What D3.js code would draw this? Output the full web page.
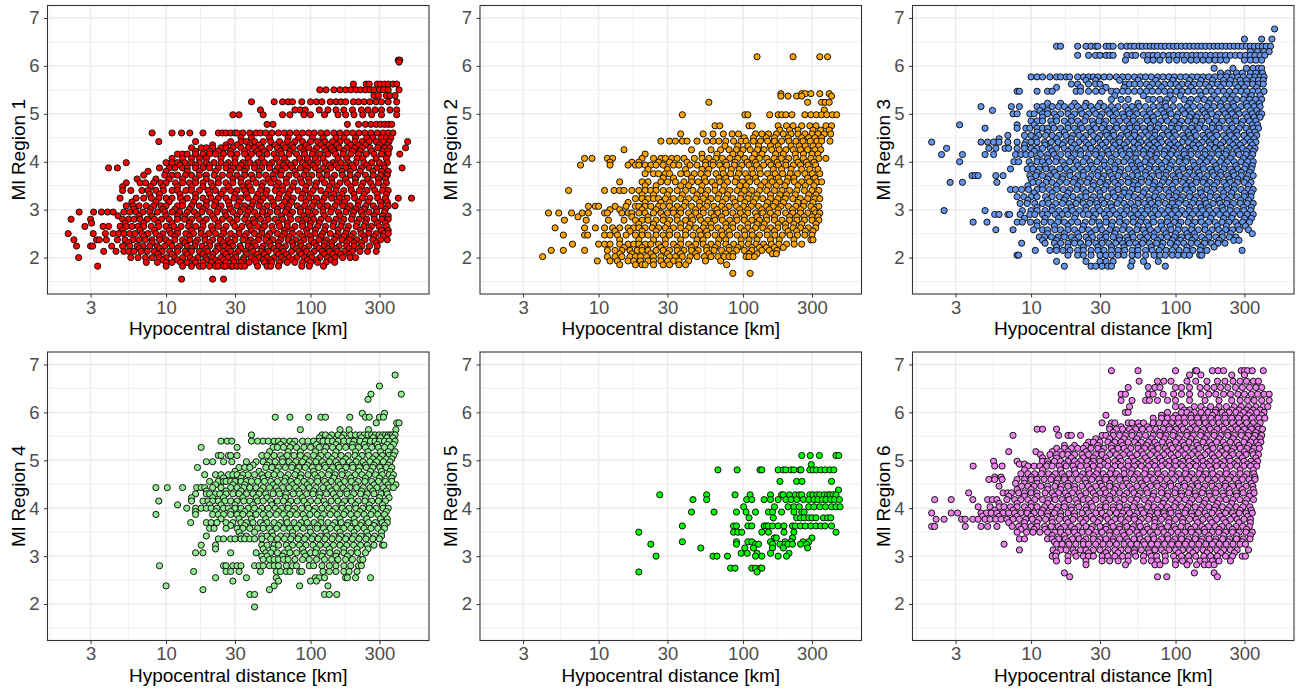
<!DOCTYPE html>
<html>
<head>
<meta charset="utf-8">
<script src="https://cdn.jsdelivr.net/npm/d3@7"></script>
<style>
  html, body { margin: 0; padding: 0; background: #fff; }
  svg { display: block; font-family: "Liberation Sans", sans-serif; }
</style>
</head>
<body>
<div id="vizArea"></div>
<script>
const xTicks = [3, 10, 30, 100, 300];
const xMinor = [1.6, 5.48, 17.3, 54.8, 173];
const yTicks = [2, 3, 4, 5, 6, 7];
const yMinor = [1.5, 2.5, 3.5, 4.5, 5.5, 6.5];
const regionNames = ["Ml Region 1", "Ml Region 2", "Ml Region 3", "Ml Region 4", "Ml Region 5", "Ml Region 6"];
const regionColors = ["#ff0000", "#ffa500", "#6495ed", "#90ee90", "#00ff00", "#ee82ee"];

// each row: [Ml, [hypocentral distances in km]]
const region1 = [
  [6.12,[405,415]],[6.08,[410]],
  [5.62,[198,243,255,290,305,325,345,372,395]],
  [5.5,[116,128,145,160,175,190,207,222,240,258,275,300,320,345,410]],
  [5.38,[275,295,335,355,385]],
  [5.25,[39,56,64,70,75,87,100,110,120,137,150,162,175,198,215,235,258,285,310,345,395]],
  [5.08,[45,78,85,92,115,132,150,170,195,225,250,280,310,355,395]],
  [4.98,[29,32,47,64,72,90,100,125,155,175,200,230,265,310,395]],
  [4.78,[50,55,180,215,240,262,285,305,325,345,365]],
  [4.6,[8,11,12.8,14.6,18,23,24.6,26,28,30,31,34,38,42,45,49,54,60,66,72,80,88,97,106,118,130,145,160,178,196,216,238,262,290,318,345,372]],
  [4.5,[33,39,52,70,83,103,122,150,170,205,245,270,310,335,360]],
  [4.42,[8.9,16,28,33,36,41,47,53,61,69,78,88,100,112,126,142,160,180,203,228,255,285,320,350,470]],
  [4.35,[21,26,31,38,44,57,65,74,93,118,134,152,190,215,240,300,340]],
  [4.29,[15,17.5,19,21,24,26,29,33,37,41,46,52,59,67,76,85,97,110,124,140,158,178,202,228,258,292,330,352,455]],
  [4.22,[16,20,23,28,35,43,48,62,72,90,105,128,145,170,195,220,265,315,345]],
  [4.16,[12,13,14,16,18,20,22,25,28,31,35,39,44,50,56,63,71,80,91,103,116,132,149,168,190,215,243,275,310,345,415]],
  [4.07,[11,13,15,17,19,24,30,37,46,58,66,84,95,108,122,155,178,210,230,285,335]],
  [3.98,[5.3,10,11,12,13.5,15,17,19,21.5,24,27,30,34,38,43,48,54,61,69,78,88,99,112,127,143,162,183,207,234,265,300,340]],
  [3.93,[12.5,16,20,26,33,41,52,65,73,92,104,135,150,175,195,245,320]],
  [3.87,[4,4.6,9,10.5,11.5,13,14,16,18,20,23,26,29,32,36,41,46,52,59,67,75,85,96,108,122,138,156,176,199,225,254,287,325,430]],
  [3.8,[7.5,10,14,17,22,28,35,44,57,63,78,93,115,130,165,188,220,270,310,345]],
  [3.72,[7,9.8,11,12,13.6,15,17,19,21.5,24.5,27.5,31,35,39,44,49,55,62,71,80,90,102,115,130,147,166,188,212,240,272,306,340]],
  [3.64,[6.3,8.5,10.5,13,16,19,23,29,33,40,51,56,68,85,97,120,140,175,205,250,295,330]],
  [3.56,[5.3,6.6,7.2,8.2,9.2,10,11.6,13,14.5,16,18,20.5,23,26,29,33,37,42,47,53,60,68,77,87,98,110,125,141,160,180,204,231,261,296,335]],
  [3.48,[5,7.8,9.5,12,15,18,21,27,34,38,46,58,64,75,93,108,135,152,190,225,270,320]],
  [3.4,[5,5.7,6.8,7.5,8.5,9.6,11,12,13.7,15,17,19.5,22,25,28,31,35,39,45,50,57,64,72,82,92,104,118,133,150,170,192,218,246,279,316,345]],
  [3.32,[7.7,9,12.5,16,20,24,30,36,43,49,61,70,88,100,128,145,165,200,235,290,335]],
  [3.24,[4.8,6.2,7,7.9,8.9,10,11,12.6,14,16,18,20.5,23,26,29.5,33,37,42,47,53,60,68,76,86,97,110,124,140,158,179,202,228,258,292,330,405,500]],
  [3.16,[5.8,8.5,10.5,13,15.5,19,22,27,32,40,45,55,66,74,93,106,120,153,172,215,250,305,340]],
  [3.08,[5.3,5.9,6.5,7.3,8.2,9.2,10,12,13,15,17,19,21.5,24,27.5,31,35,39,44,50,56,63,71,81,91,103,116,131,148,167,188,213,241,272,308,345,385]],
  [3.01,[6,7.8,9.5,11.5,14.5,18,23,28,34,38,47,59,69,85,97,122,140,180,205,235,285,330]],
  [2.95,[2.5,3.15,3.57,3.94,4.3,5.1,5.6,6.2,6.9,7.7,8.7,9.8,11,12.4,14,15.7,17.7,20,22.5,25.5,29,32.5,37,41,46.5,52.5,59,67,75,85,96,108,122,138,156,176,199,225,254,287,325]],
  [2.87,[4.65,6.5,8,10,12,13.5,16.5,21,26,31,36,43,50,63,72,90,102,125,160,195,230,275,315,345]],
  [2.8,[2.2,3,5,5.5,6,6.6,7.4,8.3,9.3,10.5,12,13.4,15,17,19,21.7,24.5,27.6,31,35,40,45,51,57,64,73,82,93,105,118,133,150,170,192,217,245,277,312,345]],
  [2.72,[3.05,5.2,7,8.8,11,14.5,18,23,29,37,41,48,60,69,88,100,115,145,165,210,240,290,330]],
  [2.65,[2.74,3.66,4,4.8,5.3,5.8,6.4,7,7.9,8.9,10,11.3,12.7,14.3,16,18,20.6,23,26,30,33.5,38,43,48,54,61,69,78,88,99,112,127,143,162,183,207,234,264,298,336]],
  [2.57,[5,6.6,8.3,10.5,12,15,17.5,21,25,32,39,46,55,66,74,94,108,125,155,178,222,255,310,345]],
  [2.5,[2.1,3.13,3.8,4.3,4.7,5.1,5.6,6.1,6.8,7.5,8.5,9.5,10.8,12,13.7,15.5,17.5,19.7,22,25,28,32,36,41,46,52,59,66,75,84,95,107,121,137,155,175,198,224,252,285,322,345]],
  [2.44,[7,9,11.5,14.5,18.5,24,30,35,44,50,63,71,88,100,118,150,170,190,235,275,318]],
  [2.37,[2.3,3.3,3.45,3.86,4.6,5.2,5.9,6.5,7.2,8,9,10,11.5,13,14.6,16.5,18.6,21,23.7,26.8,30,34,38.5,43.5,49,55,62,70,79,90,101,114,129,146,165,186,210,238,270,305,340]],
  [2.31,[5.5,8,10.5,13.5,16,20,25,28,37,41,52,60,75,85,106,125,140,178,200,225,285]],
  [2.24,[2.4,3,3.1,4.2,5,5.6,6.3,6.9,7.7,8.7,9.8,11,12.4,14,15.8,17.8,20,22.7,25.5,29,32.5,37,41.5,47,53,60,67,76,86,97,110,124,140,158,178,201,227,256,290]],
  [2.19,[6.5,9,12,15,19,23,27,33,39,46,56,64,80,91,115,132,150,185,215]],
  [2.13,[3.7,4.5,5.1,5.5,6,6.7,7.4,8.3,9.4,10.6,12,13.5,15,17,19.4,22,24.8,28,31.5,35.5,40,45.5,51,58,65,74,83,94,106,120,135,153,172,195,220,248,285]],
  [2.07,[8.8,11,14,18,21,26,30,36,43,48,60,68,86,100,125,143,162,185]],
  [2,[2.48,5.7,6.4,7.2,8,9,10,11.5,13,14.7,16.6,18.8,21,24,27,30.5,34.5,39,44,50,56,63,71,80,91,102,116,131,148,167,188,205]],
  [1.95,[9.5,12,15.5,19,22,25,29,34,41,47,53,66,75,95,110,138]],
  [1.9,[7.3,8.7,10,11,12.6,14,16,18,20.5,23,26,29.5,33,37.5,42,48,54,61,69,78,88,100,112,128,147]],
  [1.82,[3.36,10,13,15,17,18,20,22,23,25,26,28,29,31,33,35,43,50,53,60,87,98,123]],
  [1.55,[12.8,21,25]]
];

const region2 = [
  [6.19,[125,222,340,385]],
  [5.42,[183,255,270,295,340,395]],
  [5.37,[183,205,235,255,410]],
  [5.24,[58,280,350,370,395]],
  [5.08,[365]],
  [4.98,[38,103,108,153,175,185,198,218,268,295,322,350,380,415,445]],
  [4.75,[64,69,110,116,175,200,222,255,290,320,375,410]],
  [4.66,[180,210,240,305,345,395]],
  [4.58,[37,53,62,73,84,93,122,135,150,170,190,215,240,268,300,330,365,405]],
  [4.5,[102,118,145,165,205,255,285,315,350]],
  [4.43,[27,31,34,38,41,48,56,62,68,76,86,97,105,118,132,148,165,185,208,232,260,292,325,350,400]],
  [4.33,[75,92,108,128,155,175,215,245,270,305,335]],
  [4.25,[15,44,60,70,80,90,100,112,126,140,158,178,198,222,250,280,315,345]],
  [4.16,[21,52,66,85,96,120,135,168,190,230,262,300,330]],
  [4.07,[8,9,11.5,12.5,20,24,27,29,32,35,39,46,52,58,65,72,81,92,103,116,130,146,164,184,207,233,262,295,335,375]],
  [3.99,[12,17,19,26,31,41,55,62,76,88,107,122,150,172,198,240,275,310]],
  [3.93,[7.5,12,16,18,19,21,23,25,28,33,36,43,48,55,62,69,77,87,98,110,124,139,156,176,198,223,250,282,318]],
  [3.84,[22,30,40,52,58,72,83,94,115,130,162,185,215,255,290,330]],
  [3.75,[21,24,26,29,31,37,41,46,51,57,65,73,82,93,104,117,132,148,167,188,212,238,268,302,340]],
  [3.66,[28,33,44,54,68,76,90,108,122,155,175,205,225,280,315]],
  [3.58,[14,20,22,27,30,34,39,44,49,55,61,69,78,88,99,111,125,141,159,179,201,227,255,288,325,350]],
  [3.5,[21,25,37,42,52,64,74,95,105,133,150,170,195,240,270,310]],
  [3.4,[6.2,11,12.8,14,15,17,19,21,23,25,28,31,35,40,45,51,57,64,72,81,91,102,115,130,146,165,186,210,236,266,300,335]],
  [3.31,[20,24,30,38,48,55,68,78,97,110,125,155,180,200,230,285,320]],
  [3.23,[18,20,22,24,26,29,33,37,42,47,53,60,67,76,85,96,108,122,137,155,174,196,221,249,280,315,340]],
  [3.15,[16,21,27,31,40,50,57,72,88,103,118,148,168,190,240,265,305]],
  [3.07,[8.5,9.5,10,13,15.5,18,19,21,23,26,28,31,35,39,44,50,56,63,71,80,90,101,114,128,144,162,183,206,232,262,295,335]],
  [3,[12,14,20,25,33,37,47,53,66,75,95,108,135,152,175,220,250,310]],
  [2.93,[4.5,5.3,6.5,7.7,8.5,11,11.5,14.5,16,17,19,21,24,27,30,33,37,42,47,53,60,67,76,85,96,108,122,137,155,174,197,221,250,281,318,340]],
  [2.85,[7.2,17,22,28,35,44,50,63,71,90,102,125,145,165,210,236,265,300,330]],
  [2.78,[5.8,8.2,11.7,15,18,20,22,25,28,31,35,40,45,51,57,64,72,81,91,102,115,130,146,165,186,210,236,266,300,335]],
  [2.7,[19,24,30,37,43,54,60,76,85,108,125,140,175,197,225,255,320]],
  [2.62,[5,8,9.5,11,12.5,14,16,17.5,19,21,23.5,26,29,33,37,42,47,53,60,67,76,85,96,108,122,137,155,174,197,222,250,283,318]],
  [2.55,[13,16.5,20,25,31,40,50,56,71,80,102,115,147,165,205,235,270,305]],
  [2.47,[5.7,8,8.4,11,12,13.5,15.5,18,20,22,25,28,31,35,40,45,51,57,64,72,81,91,103,116,130,147,166,187,211,238,268,300]],
  [2.37,[14,19,24,29,37,48,53,68,76,97,110,125,155,178,225,295,305]],
  [2.28,[6.6,10,11,12,14,16,17.5,19,21,23,26,29,33,37,42,47,53,60,67,76,86,97,109,123,139,157,177,200,226,255]],
  [2.21,[15,20,27,35,44,56,64,80,92,115,130,145,165,190]],
  [2.15,[4.7,5.7,8,11.5,13,14.5,16.5,18.5,20,22,25,28,31,35,39,44,49,56,63,71,80,90,102,115,135,152,172]],
  [2.08,[14,17,23,30,37,47,58,76,85,110,125,160,170]],
  [2.02,[4.1,11.5,13,14.5,16.5,18,19.5,21.5,24,27,31,34,38,43,48,54,60,67,74,80,85,105,110,120]],
  [1.93,[9.8,12,13.5,16,17.5,19.5,22,24,27,30,33,36,42,55,70]],
  [1.85,[14,18,20,21,24,28,31,36,40,77]],
  [1.67,[85,112]]
];

const region3 = [
  [6.77,[485]],
  [6.56,[300,395,465]],
  [6.41,[15,16,21,24,26,28,29,33,35,37,42,46,49,52,56,59,63,67,71,75,80,85,91,97,103,110,118,126,134,143,152,162,173,185,197,210,224,239,255,272,290,310,330,352,375,400,425,455]],
  [6.3,[330,370,410,445]],
  [6.22,[21,25,28,30,33,35,37,46,50,53,60,65,70,75,82,90,97,105,112,120,130,140,150,162,175,190,205,222,240,260,280,305,330,355,385,415]],
  [6.12,[45,64,70,78,90,102,115,128,140,155,170,188,205,225,300,330,360,395]],
  [5.95,[185,250,310,345,375,395]],
  [5.85,[205,230,265,290,330,360,400]],
  [5.77,[10,11,12,13.5,15,16,17.5,18.5,21,23,25,27,29,32,35,39,43,47,52,57,62,68,75,82,90,98,108,118,130,142,155,170,187,205,225,247,270,295,325,355,385,410]],
  [5.7,[24,28,41,55,73,96,125,150,180,215,240,280,310,345,375,405]],
  [5.62,[19,21,25,28,30,45,48,52,57,63,69,76,84,92,101,111,122,134,147,162,178,196,215,236,260,285,312,342,375,405]],
  [5.55,[15,22,33,44,66,80,105,128,170,205,270,300,365]],
  [5.47,[8,8.3,11,13,14,20.5,22,25,28,31,36,39,43,47,52,57,63,69,76,84,92,101,111,122,134,147,162,178,196,215,236,260,285,312,342,375,410]],
  [5.38,[38,60,92,108,150,185,225,250,300,335,385]],
  [5.3,[36,42,47,65,70,78,87,97,115,128,142,158,175,195,216,240,265,295,325,358,395]],
  [5.22,[13,16,20,24,30,55,85,125,170,205,250,310,340,380]],
  [5.15,[4.5,7.3,8.3,11,12,14,15.5,17,19,21,23.5,26,29,32,36,40,45,50,56,62,70,77,86,96,107,120,133,148,165,184,205,228,254,283,315,350,385]],
  [5.07,[5.4,11.5,13,18,22,27,34,38,47,53,66,80,91,112,125,155,175,215,240,270,330,365]],
  [5,[7.5,8,9.8,10.5,12,13,14.5,16,18,20,22.5,25,28,31,35,39,43,48,54,60,67,75,83,93,104,116,129,144,160,178,198,221,246,275,305,340,380,395]],
  [4.93,[12,15,19,24,30,37,44,51,63,70,85,102,125,140,165,192,230,260,315,350,385]],
  [4.85,[10,11,12,13.7,15,17,19,21,23.5,26.5,29.5,33,37,41,46,51,57,64,71,79,88,98,110,122,137,152,170,189,211,235,262,292,325,360]],
  [4.77,[3.2,8,10.5,14,18,22,27,32,39,48,54,67,76,94,106,130,148,180,200,245,285,340,370]],
  [4.7,[4.8,8,9.2,9.8,11,12,13,14.4,16,18,20,22.5,25,28,31,35,39,43.5,48.5,54,60,67,75,83,93,104,116,129,144,160,179,200,222,248,276,308,345,375]],
  [4.62,[11,13,17,21,26,33,37,46,52,62,72,88,98,122,135,168,190,235,265,325,355]],
  [4.55,[6.9,9,10,11.3,12.6,14,15.6,17.4,19.4,21.6,24,27,30,33.5,37.5,42,47,52,58,65,72,81,90,100,112,125,139,155,173,193,215,240,268,298,332,365]],
  [4.48,[6,10.8,15,19,23,29,35,41,49,56,69,78,95,115,128,160,180,225,255,315,350]],
  [4.41,[2.05,4.5,5,5.5,6,6.9,8,9.2,10,11,12.4,13.8,15.4,17,19,21.4,24,26.7,30,33,37,41,46,51.5,57.5,64,71.5,80,89,99,111,123,138,153,171,191,213,237,265,295,330,360]],
  [4.35,[9,12.5,16.5,20,25,31,38,44,55,66,75,92,104,132,145,175,205,250,280,340]],
  [4.28,[2.6,5.1,5.7,6.6,7,8,9,10,11,12,13.6,15,17,19,21,23.5,26,29,32.7,36.5,41,45.5,51,56.5,63,70.5,78.5,88,98,109,122,136,151,169,188,210,234,261,291,325,355]],
  [4.22,[10.5,14,18,22,28,34,42,48,60,68,84,95,115,128,160,198,225,270,310,345]],
  [4.15,[2.4,3.35,4.8,5.5,7.8,8.5,9.2,10,11.6,13,14.4,16,18,20,22,25,28,31,34.6,38.6,43,48,53.5,60,66.7,74.5,83,92.5,103,115,128,143,160,178,199,222,248,276,308,342]],
  [4.07,[11,13,15,19,24,30,36,46,53,63,73,88,107,120,152,172,210,240,295,330]],
  [4,[3.2,7.6,8.2,9.7,11,12,13.3,14.8,16.5,18.5,20.5,23,25.6,28.6,32,35.6,40,44,49,55,61.5,68.5,76.5,85,95,106,118,132,147,164,183,204,228,254,284,316,345]],
  [3.92,[10,12.5,17,21,26,32,38,50,57,66,80,92,112,135,155,190,218,262,305,340]],
  [3.85,[7.2,9.4,10.3,11.4,12.7,14,15.8,17.6,19.6,22,24.4,27,30,34,38,42,47,52,58,65,72.7,81,90,101,112,125,140,156,174,194,216,241,269,300,335]],
  [3.78,[11,14.5,18.5,23,29,35,41,54,62,76,86,105,125,145,180,205,250,285,325]],
  [3.71,[3.9,4.1,4.3,5.7,6.4,9.8,10.8,12,13.4,15,16.7,18.6,21,23,26,29,32,36,40,44.6,50,55,62,69,77,86,96,107,119,133,148,165,184,205,229,255,285,318,345]],
  [3.64,[10,13,16.5,20,25,31,37,47,58,66,83,100,115,140,158,195,235,270,310]],
  [3.57,[2.75,3.35,5.8,10.3,11.3,12.7,14,15.7,17.6,19.6,22,24.4,27,30,34,38,42,47,52,58,65,72,81,90,100,112,125,139,155,173,193,216,240,268,299,333]],
  [3.5,[9.5,12,15,21,27,33,40,51,55,70,78,95,118,130,165,185,225,255,320]],
  [3.42,[7.2,7.8,8.6,9.6,11,12,13.4,15,16.7,18.6,20.7,23,26,29,32,36,40,44.5,50,55,62,69,77,86,96,107,119,132,148,165,184,205,229,255,284,317,345]],
  [3.35,[10.5,14,18,24,30,37,44,48,60,73,90,102,125,150,175,215,245,300,335]],
  [3.27,[8,8.9,10,11,12.6,14,15.7,17.5,19.5,22,24,27,30,34,38,42,47,52,58,65,72,81,90,100,112,125,139,155,173,193,215,240,268,299,333]],
  [3.2,[9.5,13,17,21,26,31,41,55,66,76,95,108,135,160,200,228,282,320]],
  [3.13,[8.4,9.4,10.6,12,13.2,14.8,16.5,18.4,20.5,23,25.5,28.5,32,35.4,39.5,44,49,55,61,68,76,85,95,105,118,131,146,163,182,203,226,252,281,314,345]],
  [3.05,[11,14,19,24,29,36,46,52,64,72,90,100,125,150,170,210,240,295,335]],
  [2.98,[2.5,4.8,8.7,10,11,12.5,14,15.6,17.4,19.4,21.6,24,27,30,33.5,37,41.6,46,52,58,64,72,80,89,100,111,124,138,154,172,192,214,238,266,297,331]],
  [2.9,[5.6,6,6.9,7.1,8.4,9.8,10.6,12,13,14.7,16.4,18,20.4,23,25,28,32,35,39,44,49,55,61,68,76,84,94,105,117,131,146,163,181,202,225,251,280,313,345]],
  [2.82,[9,12.5,15.5,20,27,33,41,51,58,70,88,100,125,150,175,215,245,300,335]],
  [2.74,[3.97,4.95,8,8.7,9.9,11,12.3,13.7,15.3,17,19,21,23.7,26.4,29.5,33,36.6,41,45.6,51,57,63,70.5,79,88,98,109,122,136,151,169,188,210,234,261,291,325]],
  [2.66,[11,14.5,18,23,30,36,44,55,65,80,92,105,130,160,195,225,270,305]],
  [2.58,[5.7,7.5,10.4,12,13,14.6,16,18,20,22.5,25,28,31,35,39,43,48,54,60,67,75,83,93,104,116,129,144,160,179,199,222,248,277,320]],
  [2.5,[13,17,21,26,33,38,50,62,71,86,100,120,135,170,210,240,340]],
  [2.43,[11.4,12.4,13.8,15.4,17,19,21.4,24,26.6,30,33,37,41,46,51,57,64,71,79,88,98,110,122,137,152,170,190,211,236,262]],
  [2.36,[12,15,20,25,31,41,47,60,75,95,108,130,160,200,253,275]],
  [2.3,[8.6,12.5,14.5,16,18,20,22,25,28,31,34.5,38.5,43,48,53,59,66,74,82,92,103,114,128,142,159,177,197,220]],
  [2.22,[15,18,23,29,36,44,55,68,80,100,120,150,185]],
  [2.15,[10.7,13.5,15,16.6,18.6,21,23,26,29,32,36,40,44.5,50,55,62,69,77,86,95,106,119,132,148,165,289]],
  [2.05,[8,8.2,18,21,23,26,30,33,36,40,44,50,55,62,71,78,85,95,104,115,125,147,152]],
  [1.92,[15,24,30,33,37,50,60,76]],
  [1.82,[17,26,28,31,34,36,49,64,85]]
];

const region4 = [
  [6.78,[385]],[6.55,[300]],[6.38,[262,425]],[6.27,[250]],
  [5.98,[228,325]],
  [5.9,[57,72,97,118,127,187,240,255,300,320]],
  [5.78,[285,395,410]],
  [5.64,[85,160,185,252,390]],
  [5.53,[39,120,127,140,155,170,190,205,220,235,250,265,280,298,315,330,345,358,370,385]],
  [5.47,[115,135,165,225,272,305,338,372]],
  [5.4,[24,26.5,28.5,39,43,47,51,56,60,65,72,78,88,96,105,115,122,132,142,155,170,185,200,220,240,260,280,300,325,350,385]],
  [5.33,[62,75,110,150,195,235,290,340,375]],
  [5.27,[17.5,31,55,59,65,72,80,90,100,115,128,142,158,175,195,215,240,265,295,325,358]],
  [5.18,[52,70,85,108,125,150,205,250,305,345,385]],
  [5.1,[23,24,27,28,31,46,50,56,62,69,77,85,95,105,118,132,147,163,182,203,227,253,282,314,350,375]],
  [5.03,[64,92,113,140,175,215,270,300,335,365]],
  [4.97,[19,21,25,28.5,36,42,47,52,57,64,71,79,88,98,109,121,135,150,167,186,207,231,257,286,319,355]],
  [4.9,[40,50,75,95,125,155,195,240,275,345]],
  [4.85,[16.5,32,35,38,49,54,60,67,74,83,92,103,114,127,142,158,176,196,218,243,270,302,335,365]],
  [4.77,[30,44,58,80,105,135,165,215,260,310,355]],
  [4.7,[18.5,22,24,27,29,31,34,37,41,46,51,56,62,70,78,86,96,107,119,133,148,165,183,204,227,253,282,314,350,375]],
  [4.63,[25,33,47,67,85,112,145,190,240,300,365]],
  [4.56,[20,23,25,26,28,30,33,36,39,43,48,53,59,66,73,81,90,100,112,125,139,155,172,192,214,238,265,295,330,365]],
  [4.49,[22,29,35,55,75,95,130,160,205,275,345,390]],
  [4.43,[8.5,10.2,13,16.3,17.5,18.5,21,24,28,31,34.5,38,42,47,52,58,64,71,79,88,98,109,122,135,151,168,187,208,232,258,288,320,350,375]],
  [4.36,[19,26,33,45,60,83,105,140,178,225,270,335]],
  [4.3,[16,19,20,22,23.5,26,29,32,36,40,44,49,55,61,68,76,84,94,104,116,129,144,160,179,199,222,247,275,307,340]],
  [4.22,[15,21,25,34,42,50,67,88,115,150,190,240,300,350]],
  [4.15,[8.9,15,18,19.5,21,23,25.5,28,31,34.5,38,43,47,53,59,65,73,81,90,100,112,124,139,155,172,192,214,238,265,295,330]],
  [4.07,[12,20,24,30,40,54,70,95,127,165,205,255,315]],
  [4,[13.9,16,17.5,19,20.5,22.5,25,27,30,33,37,41,46,51,57,63,70,78,87,97,108,120,134,149,166,185,206,230,256,285,318,345]],
  [3.93,[16,22,28,35,44,60,75,105,142,175,220,270,335]],
  [3.87,[8.5,16,21,23,25,28,31,34,38,42,47,52,58,65,72,80,89,99,111,123,137,153,170,190,211,235,262,292,325]],
  [3.78,[24,32,39,49,68,92,118,160,200,245,305,340]],
  [3.7,[14.8,19,20.5,22.5,26,29,33,36,40,45,50,56,62,69,77,86,95,106,118,132,147,163,182,203,226,252,281,313,340]],
  [3.64,[28,35,47,60,83,112,142,180,222,275,325]],
  [3.58,[20,21.5,26,31,34,38,43,47,52,58,65,72,80,89,99,111,123,137,153,170,190,211,235,262,292,325]],
  [3.5,[32,41,54,75,100,128,160,200,245,310]],
  [3.42,[19,33,36,46,50,55,62,68,75,84,94,105,117,130,145,162,180,201,224,250,278,310]],
  [3.36,[23,25,28,30,33,35,38,41,46,53,59,66,73,82,91,102,113,126,141,157,175,195,217,242,270,300]],
  [3.23,[17.5,22,46,50,56,60,68,75,84,93,104,116,129,144,160,178,199,222,247,275,315,322]],
  [3.15,[22,47,55,70,88,110,135,170,210,250]],
  [3.07,[16,18,28,42,49,53,59,66,72,80,90,100,108,122,136,152,170,190,212,240]],
  [3,[46,50,64,92,120,150,180]],
  [2.93,[47,52,56,60,65,70,78,88,98,110,125,140,155,175,195,220,230]],
  [2.8,[9,25,26,29,31,33,41,44,47,52,56,60,68,75,80,98,105,120,135,150,170,190,215,225]],
  [2.68,[15.5,26,28,32,45,58,62,68,72,84,87,122,135,150,170,185,210]],
  [2.55,[22,36,58,108,115,125,175,180,205,260]],
  [2.48,[29,60,100,110]],
  [2.38,[10,56,84,132]],
  [2.3,[18,52]],
  [2.2,[38,41,125,135,152]],
  [1.94,[41]]
];

const region5 = [
  [5.1,[255,292,338,440,460]],
  [4.91,[297]],
  [4.8,[67,91,131,135,175,190,198,215,225,247,252,290,305,322,345,370,400,425]],
  [4.56,[180,235,256,410]],
  [4.38,[458]],
  [4.28,[26.5,56,88,112,155,185,190,210,230,245,255,290,305,325,340,365,385,400,420,440]],
  [4.18,[45,56,106,115,140,155,175,198,215,235,262,285,310,330,355,375,405,430,465]],
  [4.03,[101,165,205,225,245,285,310,340,372,410,440,470]],
  [3.92,[44,63,90,105,122,150,160,185,225,255,265]],
  [3.8,[110,162,235,250,265,285,300,320,360,385,405]],
  [3.63,[38,86,90,108,115,140,145,150,160,175,192,220,230,250,270,295,320,345,370,410]],
  [3.5,[19,86,92,98,135,150,192,225,440]],
  [3.38,[165,170,220,300]],
  [3.3,[38,90,108,115,155,195,215,260,285]],
  [3.25,[23,90,122,128,160,180,195,205,220,250,275]],
  [3.17,[51,103,118,160,190,280]],
  [3.06,[97,107,125,155,208]],
  [3,[25,62,66,78,122,135,175,200]],
  [2.75,[82,88,115,122,132,135]],
  [2.67,[19,125]]
];

const region6 = [
  [6.87,[36,55,100,137,140,180,197,215,285,300,315,340,405]],
  [6.78,[125,150,245,300]],
  [6.65,[56,75,83,93,120,138,165,195,220,250,280,310,345,375]],
  [6.52,[47,65,72,78,100,110,125,148,165,185,205,230,260,290,325,360,395]],
  [6.38,[42,45,65,70,82,97,110,125,150,170,190,215,240,270,300,335,370,410,445]],
  [6.25,[42,50,62,66,75,88,100,125,160,200,245,280,315,350,395,445]],
  [6.12,[48,100,110,135,150,175,200,225,255,285,320,360,405,435]],
  [6.05,[115,125,160,190,245,275,310,345,385]],
  [6,[45,47,88,110,120,135,150,168,188,210,235,262,295,330,365,410]],
  [5.94,[33,80,100,128,180,220,280,320,395]],
  [5.88,[70,80,88,96,105,115,128,142,158,176,197,220,245,273,305,340,380,415]],
  [5.78,[31,36,38,47,50,55,60,70,77,85,94,105,116,130,145,161,180,200,223,248,277,310,345,385]],
  [5.7,[35,42,56,64,90,110,135,170,210,260,290,330,370]],
  [5.65,[11,12,15,35,39,43,48,53,59,66,73,82,91,101,113,126,140,156,174,194,217,241,270,300,335,375,400]],
  [5.58,[37,50,78,97,120,150,185,230,285,320,360]],
  [5.52,[7.5,15.5,18,19,22,31,33,37,41,45,50,56,62,70,78,86,96,108,120,133,149,166,185,206,230,256,286,319,355,395]],
  [5.45,[28,35,44,54,68,84,105,128,160,200,250,305,345,385]],
  [5.38,[25,27,30,34,38,42,47,52,58,65,72,81,90,100,112,124,139,155,172,192,214,239,266,297,331,365,390]],
  [5.31,[17,20,24,29,36,43,55,63,75,92,115,142,178,222,275,320,375]],
  [5.25,[15,17,19,21,23,26,29,32,36,40,44,49,55,61,68,76,85,95,105,118,131,146,163,182,203,226,252,281,313,350,380]],
  [5.18,[7,10.8,14,16,18,24,31,37,46,58,70,88,110,135,168,210,245,300,340]],
  [5.12,[11.6,13.5,15,16.5,18,20,22.5,25,28,31,35,39,43.5,48.5,54,60,67,75,83,93,104,116,129,144,160,179,199,222,248,276,308,345,375]],
  [5.05,[12,15,19,23,27,33,41,50,62,78,97,122,150,185,235,290,360]],
  [4.98,[5.5,8,12,13,14.5,16,18,20,22,24.5,27,30,34,38,42,47,52,58,65,72,81,90,100,112,125,139,155,173,193,215,240,268,298,333,370]],
  [4.92,[8.3,9,13,17,21,26,32,40,55,68,85,108,132,165,205,255,315,350]],
  [4.88,[3.97,5.6,6.3,9.5,10.5,11.5,12.8,14,15.7,17.5,19.5,22,24.3,27,30,34,38,42,47,52,58,65,72,80,90,100,112,125,139,155,172,192,214,239,266,297,331,365]],
  [4.8,[9,12,16,20,25,29,36,44,50,62,75,95,118,148,178,225,280,345]],
  [4.72,[8.5,9.5,10.6,11.8,13.2,14.7,16.4,18.3,20.4,22.8,25.4,28.3,31.6,35.2,39,44,49,54.5,61,68,76,84,94,105,117,130,145,162,181,202,225,251,280,312,348]],
  [4.65,[5.6,6.2,10,14,17,22,27,33,41,52,66,80,100,125,155,195,240,300,355]],
  [4.6,[5.1,5.6,6.3,8,9,10,11,12.3,13.7,15.3,17,19,21.2,23.6,26.3,29.4,32.8,36.5,41,45.4,51,56.5,63,70,78,87,97,109,121,135,151,168,187,209,233,260,290,323,355]],
  [4.52,[7.8,9,11,15,18,24,30,35,46,58,74,92,115,142,178,222,272,335]],
  [4.46,[6,8.6,9.5,10.5,11.7,13,14.6,16.2,18,20,22.5,25,28,31,35,39,43,48,54,60,67,75,83,93,104,116,129,144,160,179,199,222,248,276,308,343]],
  [4.39,[8,10,13,16,20,26,32,38,50,63,80,100,125,155,190,235,290,345]],
  [4.32,[3.7,6.4,6.9,7.3,8.2,9,10,11,12.5,14,15.5,17.3,19.3,21.5,24,27,30,33,37,41,46,51.5,57,64,71,80,89,99,110,123,137,153,171,190,212,237,264,294,328,350]],
  [4.25,[7,9,11,14.5,18,22,28,35,44,55,70,88,110,138,172,215,265,325]],
  [4.18,[2.15,2.8,3.95,5,5.4,5.8,6.8,7.7,8.5,9.5,10.6,12,13.2,14.7,16.4,18.3,20.4,23,25,28,31.5,35,39,44,49,54,61,68,75,84,94,105,117,130,145,162,180,201,224,250,279,311,347]],
  [4.1,[6,8,10,13,17,21,26,33,41,52,65,82,100,125,158,195,245,305]],
  [4.03,[4.3,5.2,6,6.5,7.2,8,9,10,11,12.4,13.8,15.4,17,19,21.4,24,26.6,30,33,37,41,46,51,57,64,71,79,88,98,110,122,137,152,170,189,211,236,263,293,327]],
  [3.96,[5.6,7.5,9.5,12,15,19,24,30,37,46,58,75,92,118,148,185,228,280,335]],
  [3.9,[2.05,2.8,3.1,4.5,4.9,5.3,5.8,6.4,7,7.7,8.5,9.4,10.5,11.7,13,14.5,16,18,20,22.5,25,28,31,35,39,43,48,54,60,67,75,83,93,104,116,129,144,160,179,199,222,248,276,308,340]],
  [3.83,[4.6,6,8,10,13,16,20,26,33,42,52,66,84,105,130,165,205,255,315]],
  [3.77,[2.2,2.5,3.3,3.5,3.95,4.3,4.8,5.2,5.7,6.2,6.8,7.5,8.3,9.2,10.2,11.3,12.6,14,15.7,17.5,19.5,22,24,27,30,34,38,42,47,52,58,65,72,80,90,100,112,125,139,155,173,193,215,240,267,298,330]],
  [3.7,[7,9,11,14,18,23,29,36,45,56,72,90,112,142,178,222,275,330]],
  [3.62,[2.05,2.15,3.5,4.5,5,5.8,7.4,8.2,9,10,11,12.4,13.8,15.4,17,19,21.3,24,26.5,30,33,37,41,46,51,57,63,71,79,88,98,109,122,136,152,169,189,210,235,262,292,325]],
  [3.56,[8.5,10.5,12.5,16,20,26,33,41,50,64,80,100,128,158,200,248,310]],
  [3.5,[8,9.3,10.3,11.5,13,14.6,16,18,20,22.5,25,28,31,35,39,43,48,54,60,67,75,83,93,104,116,129,144,160,179,199,222,248,276,308,340]],
  [3.43,[14,17,21,27,35,44,56,70,88,110,138,170,215,265,330]],
  [3.36,[8.3,9,13,14,15.5,17.3,19.3,21.5,24,27,30,33,37,41,46,51.5,57,64,71,80,89,99,110,123,137,153,171,190,212,237,264,294,328]],
  [3.3,[14.5,18,23,29,37,47,60,76,95,120,150,188,232,290]],
  [3.25,[6.5,15,16.4,18.3,20.4,23,25,28,31.5,35,39,44,49,54,61,68,75,84,94,105,117,130,145,162,180,201,224,250,280,305]],
  [3.13,[8.3,14.2,16,17.5,19.5,22,24,27,30,34,38,42,47,52,58,65,72,80,90,100,112,125,139,155,173,193,215,240,267,320]],
  [3.07,[15,20,25,33,40,52,66,84,105,132,165,205,255]],
  [3,[14,14.8,18,20.5,23,25,27,31,34,38,43,47,53,60,68,74,85,97,110,123,138,157,175,195,222,248,290,305]],
  [2.9,[15,18,24,31,35,40,47,60,68,75,85,100,112,125,148,160,180,200,240]],
  [2.82,[24,45,72,78,100,120,140,158,170,185]],
  [2.65,[17,135,185]],
  [2.57,[18.5,75,87,195]]
];

const regions = [region1, region2, region3, region4, region5, region6];

const panelW = 381.5, panelH = 288.5;
const panelX = [47.5, 480, 912.5];
const panelY = [5.5, 352];

const svg = d3.select("#vizArea")
    .append("svg")
    .attr("width", 1296)
    .attr("height", 691);

const x = d3.scaleLog().domain([1.51, 661]).range([0, panelW]);
const y = d3.scaleLinear().domain([1.24, 7.26]).range([panelH, 0]);

regions.forEach((rows, i) => {
    const g = svg.append("g")
        .attr("transform", `translate(${panelX[i % 3]},${panelY[Math.floor(i / 3)]})`);

    // grid
    g.selectAll(".minorx").data(xMinor).join("line")
        .attr("class", "minorx")
        .attr("x1", d => x(d)).attr("x2", d => x(d))
        .attr("y1", 0).attr("y2", panelH)
        .attr("stroke", "#ebebeb").attr("stroke-width", 0.8);
    g.selectAll(".minory").data(yMinor).join("line")
        .attr("class", "minory")
        .attr("x1", 0).attr("x2", panelW)
        .attr("y1", d => y(d)).attr("y2", d => y(d))
        .attr("stroke", "#ebebeb").attr("stroke-width", 0.8);
    g.selectAll(".majorx").data(xTicks).join("line")
        .attr("class", "majorx")
        .attr("x1", d => x(d)).attr("x2", d => x(d))
        .attr("y1", 0).attr("y2", panelH)
        .attr("stroke", "#ebebeb").attr("stroke-width", 1.4);
    g.selectAll(".majory").data(yTicks).join("line")
        .attr("class", "majory")
        .attr("x1", 0).attr("x2", panelW)
        .attr("y1", d => y(d)).attr("y2", d => y(d))
        .attr("stroke", "#ebebeb").attr("stroke-width", 1.4);

    // points
    const points = rows.flatMap(([ml, dists]) => dists.map(d => ({ ml, d })));
    g.selectAll("circle").data(points).join("circle")
        .attr("cx", d => x(d.d))
        .attr("cy", d => y(d.ml))
        .attr("r", 3.1)
        .attr("fill", regionColors[i])
        .attr("stroke", "#111")
        .attr("stroke-width", 1);

    // axes
    const xAxis = g.append("g")
        .attr("transform", `translate(0,${panelH})`)
        .call(d3.axisBottom(x).tickValues(xTicks).tickFormat(d3.format("d")).tickSize(3.5).tickPadding(3));
    const yAxis = g.append("g")
        .call(d3.axisLeft(y).tickValues(yTicks).tickFormat(d3.format("d")).tickSize(3.5).tickPadding(4.5));
    [xAxis, yAxis].forEach(a => {
        a.select(".domain").remove();
        a.selectAll(".tick line").attr("stroke", "#333");
        a.selectAll(".tick text").attr("fill", "#4d4d4d").style("font-size", "18.5px");
    });

    g.append("rect")
        .attr("width", panelW).attr("height", panelH)
        .attr("fill", "none").attr("stroke", "#333").attr("stroke-width", 1.1);

    g.append("text")
        .attr("x", panelW / 2).attr("y", panelH + 41)
        .attr("text-anchor", "middle")
        .style("font-size", "19px")
        .text("Hypocentral distance [km]");
    g.append("text")
        .attr("transform", `translate(-23,${panelH / 2}) rotate(-90)`)
        .attr("text-anchor", "middle")
        .style("font-size", "19px")
        .text(regionNames[i]);
});
</script>
</body>
</html>
